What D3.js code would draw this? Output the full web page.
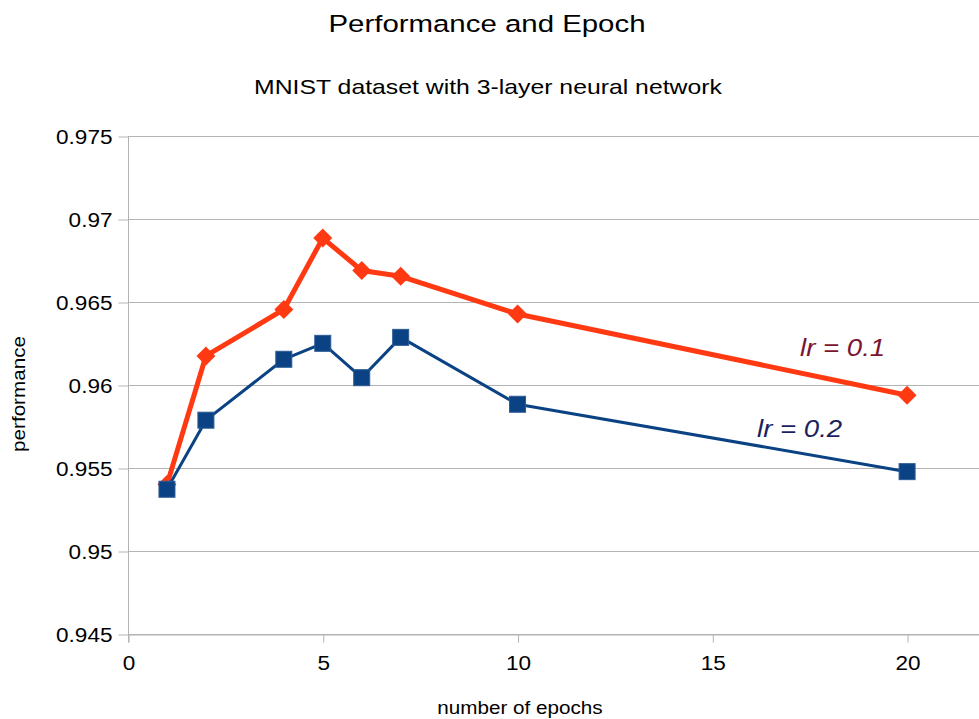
<!DOCTYPE html>
<meta charset="utf-8">
<style>
    body { margin: 0; background: #fff; }
    svg { display: block; font-family: "Liberation Sans", Arial, sans-serif; }
</style>

<svg width="979" height="719"></svg>

<script src="https://d3js.org/d3.v7.min.js"></script>
<script>
    // values
    var epochs = [1, 2, 4, 5, 6, 7, 10, 20];
    var lr01 = [0.9540, 0.96175, 0.96455, 0.96885, 0.9669, 0.96655, 0.96428, 0.95938];
    var lr02 = [0.95372, 0.95788, 0.96155, 0.96251, 0.96044, 0.96287, 0.95884, 0.95478];
    var yTicks = [0.945, 0.95, 0.955, 0.96, 0.965, 0.97, 0.975];
    var xTicks = [0, 5, 10, 15, 20];

    var RED = "#ff3a12",
        BLUE = "#0a4283",
        GRID = "#b3b3b3";

    var svg = d3.select("svg"),
        x = d3.scaleLinear().domain([0, 22]).range([128, 985]),
        y = d3.scaleLinear().domain([0.945, 0.975]).range([634, 136]);

    // widen text the way the reference is widened
    function stretch(k) {
        return function (sel) {
            sel.each(function () {
                var w = this.getComputedTextLength();
                this.setAttribute("textLength", w * k);
                this.setAttribute("lengthAdjust", "spacingAndGlyphs");
            });
        };
    }

    // grid lines
    svg.append("g")
        .selectAll("line")
        .data(yTicks)
        .enter()
        .append("line")
        .attr("x1", x(0))
        .attr("x2", x(22))
        .attr("y1", function (d) { return y(d) + 0.5; })
        .attr("y2", function (d) { return y(d) + 0.5; })
        .attr("stroke", GRID)
        .attr("stroke-width", 1);

    var yAxis = svg.append("g")
        .attr("transform", "translate(" + (x(0) + 0.5) + ",0.5)")
        .call(d3.axisLeft(y)
            .tickValues(yTicks)
            .tickSize(10)
            .tickSizeOuter(0)
            .tickPadding(6)
            .tickFormat(function (d) { return String(+d.toFixed(3)); }));

    var xAxis = svg.append("g")
        .attr("transform", "translate(0.5," + (y(0.945) + 0.5) + ")")
        .call(d3.axisBottom(x)
            .tickValues(xTicks)
            .tickSize(8)
            .tickSizeOuter(0)
            .tickPadding(13));

    [yAxis, xAxis].forEach(function (g) {
        g.select(".domain").attr("stroke", GRID);
        g.selectAll(".tick line").attr("stroke", GRID);
        g.selectAll(".tick text")
            .attr("fill", "#000")
            .attr("font-size", 20.5)
            .attr("font-family", "Liberation Sans, Arial, sans-serif")
            .call(stretch(1.1));
    });
    yAxis.select(".domain").attr("d", "M0," + y(0.975) + "V" + (y(0.945) + 8));

    // titles
    svg.append("text")
        .attr("x", 487)
        .attr("y", 32)
        .attr("text-anchor", "middle")
        .attr("font-size", 24.5)
        .text("Performance and Epoch")
        .call(stretch(1.2));

    svg.append("text")
        .attr("x", 488)
        .attr("y", 94)
        .attr("text-anchor", "middle")
        .attr("font-size", 21)
        .text("MNIST dataset with 3-layer neural network")
        .call(stretch(1.18));

    svg.append("text")
        .attr("x", 520)
        .attr("y", 714)
        .attr("text-anchor", "middle")
        .attr("font-size", 17.5)
        .text("number of epochs")
        .call(stretch(1.18));

    svg.append("text")
        .attr("transform", "translate(25,394) rotate(-90)")
        .attr("text-anchor", "middle")
        .attr("font-size", 17.5)
        .text("performance")
        .call(stretch(1.18));

    // series
    var line = d3.line()
        .x(function (d) { return x(d.e); })
        .y(function (d) { return y(d.v); });

    function pairs(vals) {
        return epochs.map(function (e, i) {
            return {e: e, v: vals[i]};
        });
    }

    var red = pairs(lr01),
        blue = pairs(lr02);

    svg.append("path")
        .datum(red)
        .attr("d", line)
        .attr("fill", "none")
        .attr("stroke", RED)
        .attr("stroke-width", 5)
        .attr("stroke-linejoin", "round");

    svg.append("g")
        .selectAll("path")
        .data(red)
        .enter()
        .append("path")
        .attr("d", d3.symbol(d3.symbolDiamond2, 230))
        .attr("transform", function (d) {
            return "translate(" + x(d.e) + "," + y(d.v) + ")";
        })
        .attr("fill", RED);

    svg.append("path")
        .datum(blue)
        .attr("d", line)
        .attr("fill", "none")
        .attr("stroke", BLUE)
        .attr("stroke-width", 3)
        .attr("stroke-linejoin", "round");

    svg.append("g")
        .selectAll("rect")
        .data(blue)
        .enter()
        .append("rect")
        .attr("x", function (d) { return x(d.e) - 8; })
        .attr("y", function (d) { return y(d.v) - 8; })
        .attr("width", 16)
        .attr("height", 16)
        .attr("fill", BLUE)
        .attr("stroke", "#2c5b94")
        .attr("stroke-width", 1);

    // hand written notes
    svg.append("text")
        .attr("x", 800)
        .attr("y", 356)
        .attr("font-size", 23)
        .attr("font-style", "italic")
        .attr("fill", "#7a1530")
        .text("lr = 0.1")
        .call(stretch(1.2));

    svg.append("text")
        .attr("x", 757)
        .attr("y", 437)
        .attr("font-size", 23)
        .attr("font-style", "italic")
        .attr("fill", "#1c1f5e")
        .text("lr = 0.2")
        .call(stretch(1.2));
</script>
